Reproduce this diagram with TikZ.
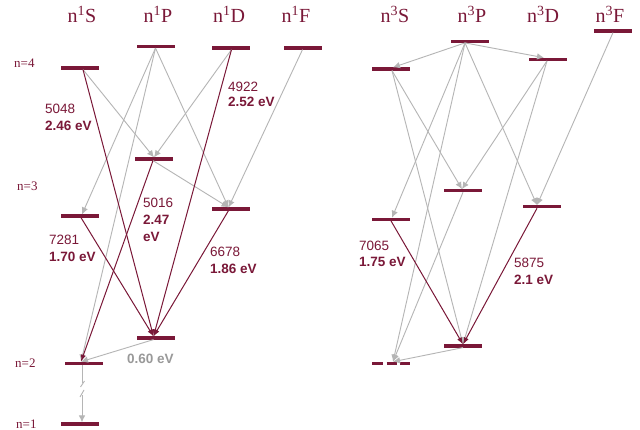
\documentclass[tikz,border=0pt]{standalone}
\usepackage{fontspec}
\setmainfont{Liberation Serif}
\newfontfamily\lsans{Liberation Sans}
\usetikzlibrary{arrows.meta}
\definecolor{maroon}{HTML}{7A1838}
\definecolor{lgray}{HTML}{B5B5B5}
\definecolor{tgray}{HTML}{999999}
\tikzset{
 lvl/.style={fill=maroon, draw=none, minimum width=38pt, minimum height=3.2pt, inner sep=0pt, outer sep=0pt},
 lvlhole/.style={draw=none, minimum width=38pt, minimum height=3.2pt, inner sep=0pt, outer sep=0pt},
 gar/.style={draw=lgray, line width=0.9pt, -{Latex[length=7pt,width=6.5pt]}},
 gline/.style={draw=lgray, line width=0.9pt},
 rar/.style={draw=maroon, line width=1pt, -{Latex[length=7pt,width=5pt]}},
 term/.style={text=maroon, font=\fontsize{20}{22}\selectfont, anchor=base, inner sep=0pt},
 nlab/.style={text=maroon, font=\fontsize{13}{15}\selectfont, anchor=base west, inner sep=0pt},
 wl/.style={text=maroon, font=\lsans\fontsize{13.5}{15}\selectfont, anchor=west, inner sep=0pt},
 ev/.style={text=maroon, font=\lsans\bfseries\fontsize{13.5}{15}\selectfont, anchor=west, inner sep=0pt},
 evg/.style={text=tgray, font=\lsans\bfseries\fontsize{13.5}{15}\selectfont, anchor=west, inner sep=0pt},
 dashseg/.style={draw=maroon, line width=3.2pt},
}
\begin{document}
\begin{tikzpicture}[x=1pt,y=-1pt]
\useasboundingbox[fill=white] (0,0) rectangle (640,430);

% term headers
\node[term] (h1s) at (82,23) {n\textsuperscript{1}S};
\node[term] (h1p) at (158,23) {n\textsuperscript{1}P};
\node[term] (h1d) at (229,23) {n\textsuperscript{1}D};
\node[term] (h1f) at (296,23) {n\textsuperscript{1}F};
\node[term] (h3s) at (395,23) {n\textsuperscript{3}S};
\node[term] (h3p) at (472,23) {n\textsuperscript{3}P};
\node[term] (h3d) at (543,23) {n\textsuperscript{3}D};
\node[term] (h3f) at (610,23) {n\textsuperscript{3}F};

% n labels
\node[nlab] (n4) at (14,67.5) {n=4};
\node[nlab] (n3) at (17,191) {n=3};
\node[nlab] (n2) at (15,367) {n=2};
\node[nlab] (n1) at (16,428) {n=1};

% singlet levels
\node[lvl] (s4) at (80,68) {};
\node[lvl] (p4) at (155.5,46.5) {};
\node[lvl] (d4) at (230.5,48) {};
\node[lvl] (f4) at (302.5,48) {};
\node[lvl] (p3) at (154,159) {};
\node[lvl] (d3) at (230.5,209) {};
\node[lvl] (s3) at (80,216) {};
\node[lvl] (p2) at (155.5,338) {};
\node[lvl] (s2) at (84,363.3) {};
\node[lvl] (s1) at (80,424) {};

% triplet levels
\node[lvl] (ts4) at (391,69) {};
\node[lvl] (tp4) at (470,41.3) {};
\node[lvl] (td4) at (548,59.3) {};
\node[lvl] (tf4) at (613,31) {};
\node[lvl] (tp3) at (463,190.7) {};
\node[lvl] (td3) at (542,206.7) {};
\node[lvl] (ts3) at (391,219.3) {};
\node[lvl] (tp2) at (463,346) {};
\node[lvlhole] (ts2) at (391,363.3) {};
\draw[dashseg] (ts2.west) -- ++(11,0);
\draw[dashseg] ([xshift=14.5pt]ts2.west) -- ++(10.5,0);
\draw[dashseg] ([xshift=-10pt]ts2.east) -- (ts2.east);

% singlet gray transitions
\draw[gar] (p4.south) -- ([xshift=2pt]s3.north);
\draw[gar] (p4.south) -- ([xshift=-3pt]s2.north);
\draw[gar] (p4.south) -- ([xshift=-2pt]d3.north);
\draw[gar] ([xshift=3pt]s4.south) -- (p3.north);
\draw[gar] ([xshift=1pt]d4.south) -- (p3.north);
\draw[gar] (f4.south) -- ([xshift=-2pt]d3.north);
\draw[gar] ([xshift=-1pt]p3.south) -- ([xshift=-2pt]d3.north);
\draw[gar] ([xshift=-2pt]p2.south) -- ([xshift=-3pt]s2.north);
% 2S -> 1S with break
\coordinate (brk1) at (82,383);
\coordinate (brk2) at (82,395);
\draw[gline] ([xshift=-2pt]s2.south) -- (brk1);
\draw[gar] (brk2) -- ([xshift=2pt]s1.north);
\draw[gline] (80.5,387) -- (84.5,381);
\draw[gline] (80,397) -- (84,390);

% singlet red transitions
\draw[rar] ([xshift=3pt]s4.south) -- ([xshift=-2pt]p2.north);
\draw[rar] ([xshift=1pt]d4.south) -- ([xshift=-2pt]p2.north);
\draw[rar] ([xshift=-1pt]p3.south) -- ([xshift=-3pt]s2.north);
\draw[rar] ([xshift=1pt]s3.south) -- ([xshift=-2pt]p2.north);
\draw[rar] ([xshift=-2pt]d3.south) -- ([xshift=-2pt]p2.north);

% triplet gray transitions
\draw[gar] ([xshift=-5pt]tp4.south) -- ([xshift=2pt]ts4.north);
\draw[gar] ([xshift=-5pt]tp4.south) -- ([xshift=-4pt]td4.north);
\draw[gar] ([xshift=-5pt]tp4.south) -- ([xshift=1pt]ts3.north);
\draw[gar] ([xshift=-5pt]tp4.south) -- ([xshift=2pt]ts2.north);
\draw[gar] ([xshift=-5pt]tp4.south) -- ([xshift=-5pt]td3.north);
\draw[gar] ([xshift=1pt]ts4.south) -- ([xshift=-1pt]tp3.north);
\draw[gar] ([xshift=1pt]ts4.south) -- (tp2.north);
\draw[gar] ([xshift=-1pt]td4.south) -- ([xshift=-1pt]tp3.north);
\draw[gar] ([xshift=-1pt]td4.south) -- (tp2.north);
\draw[gar] (tf4.south) -- ([xshift=-5pt]td3.north);
\draw[gar] (tp3.south) -- ([xshift=2pt]ts2.north);
\draw[gar] (tp2.south) -- ([xshift=2pt]ts2.north);

% triplet red transitions
\draw[rar] (ts3.south) -- (tp2.north);
\draw[rar] ([xshift=-5pt]td3.south) -- (tp2.north);

% labels
\node[wl] (w5048) at (45,109) {5048};
\node[ev] (e5048) at (45,126) {2.46 eV};
\node[wl] (w4922) at (228,87) {4922};
\node[ev] (e4922) at (228,102) {2.52 eV};
\node[wl] (w5016) at (143,203) {5016};
\node[ev] (e5016) at (143,220) {2.47};
\node[ev] (u5016) at (143,237) {eV};
\node[wl] (w7281) at (49,240) {7281};
\node[ev] (e7281) at (49,257) {1.70 eV};
\node[wl] (w6678) at (210,252) {6678};
\node[ev] (e6678) at (210,269) {1.86 eV};
\node[evg] (e060) at (127,359) {0.60 eV};
\node[wl] (w7065) at (359,246) {7065};
\node[ev] (e7065) at (359,262) {1.75 eV};
\node[wl] (w5875) at (514,263) {5875};
\node[ev] (e5875) at (514,280) {2.1 eV};
\end{tikzpicture}
\end{document}
